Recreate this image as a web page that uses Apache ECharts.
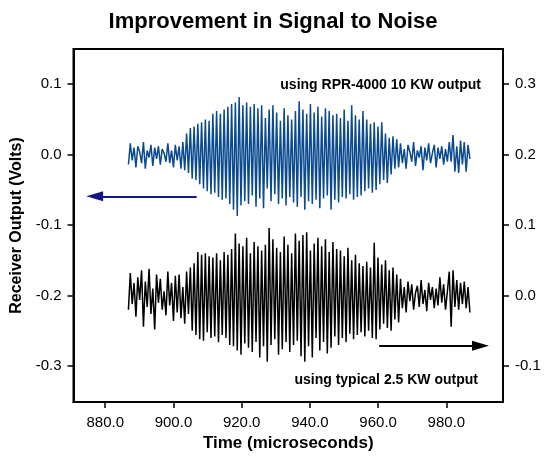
<!DOCTYPE html>
<html>
<head>
<meta charset="utf-8">
<title>Improvement in Signal to Noise</title>
<script src="https://cdn.jsdelivr.net/npm/echarts@6/dist/echarts.min.js"></script>
<style>
  html, body { margin: 0; padding: 0; background: #fff; }
  #chart { width: 546px; height: 457px; }
</style>
</head>
<body>
<div id="chart"></div>
<script>
// sampling of the recorded traces (microseconds)
const startTime = 886.8
const sampleStep = 0.55

// receiver output, RPR-4000 10 KW (left axis, volts)
const rprSignal = [
  -0.014, 0.016, -0.008, 0.010, -0.018, 0.012, 0.004, -0.012, 0.018, -0.020,
  0.006, -0.004, 0.014, -0.016, 0.010, -0.006, 0.012, -0.014, 0.008, 0.002,
  -0.010, 0.016, -0.012, 0.006, -0.018, 0.014, -0.008, 0.012, -0.020, 0.018,
  -0.022, 0.030, -0.026, 0.038, -0.034, 0.040, -0.036, 0.044, -0.042, 0.046,
  -0.048, 0.050, -0.052, 0.048, -0.056, 0.058, -0.054, 0.062, -0.060, 0.058,
  -0.064, 0.064, -0.062, 0.068, -0.070,
  0.072, -0.078, 0.074, -0.087, 0.082, -0.072, 0.070, -0.066, 0.074, -0.070,
  0.068, -0.058, 0.072, -0.074, 0.066, -0.062, 0.070, -0.076, 0.052, -0.048,
  0.064, -0.066, 0.070, -0.056, 0.060, -0.070, 0.048, -0.062, 0.066, -0.072,
  0.056, -0.060, 0.050, -0.068, 0.062, -0.074, 0.076, -0.060, 0.064, -0.078,
  0.058, -0.066, 0.072, -0.070, 0.060, -0.064, 0.068, -0.076, 0.054, -0.062,
  0.066, -0.058, 0.062, -0.078, 0.056, -0.064, 0.058, -0.068, 0.052, -0.060,
  0.064, -0.062, 0.048, -0.056, 0.070, -0.064, 0.056, -0.060, 0.050, -0.058,
  0.062, -0.052, 0.050, -0.048, 0.044, -0.054, 0.046, -0.050, 0.040, -0.042,
  0.046, -0.036, 0.030, -0.040, 0.024, -0.028, 0.026, -0.020, 0.022, -0.018,
  0.016, -0.012, 0.008, -0.020, 0.014, 0.004, -0.010, 0.018, -0.016, 0.006,
  -0.004, 0.012, -0.022, 0.010, -0.008, 0.016, -0.012, 0.002, 0.014, -0.018,
  0.010, -0.006, 0.012, -0.014, 0.008, -0.010, 0.018,
  -0.010, 0.028, -0.024, 0.012, -0.026, 0.020, -0.014, 0.018, -0.024, 0.014,
  -0.006
]

// receiver output, typical 2.5 KW (right axis, volts)
const typicalSignal = [
  -0.020, 0.032, -0.012, 0.018, -0.030, 0.026, -0.006, 0.036, -0.044, 0.020,
  -0.016, 0.038, -0.026, 0.010, -0.048, 0.030, -0.010, 0.024, -0.020, 0.006,
  -0.028, 0.034, -0.014, 0.018, -0.036, 0.028, -0.024, 0.030, -0.032, 0.012,
  -0.040, 0.034, -0.026,
  0.040, -0.050, 0.046, -0.056, 0.062, -0.062, 0.058, -0.064, 0.060, -0.052,
  0.056, -0.060,
  0.054, -0.058, 0.060, -0.066, 0.050, -0.056, 0.062, -0.060, 0.058, -0.070,
  0.066, -0.072,
  0.088, -0.078, 0.074, -0.084, 0.070, -0.068,
  0.082, -0.074, 0.060, -0.080, 0.076, -0.066, 0.070, -0.088, 0.064, -0.072,
  0.072, -0.094, 0.096, -0.070, 0.080, -0.062, 0.068, -0.084, 0.062, -0.076,
  0.084, -0.066, 0.072, -0.080, 0.060, -0.070, 0.088, -0.064, 0.078, -0.086,
  0.086, -0.094, 0.090, -0.072, 0.064, -0.088, 0.074, -0.060, 0.082, -0.078,
  0.070, -0.066, 0.080, -0.082, 0.062, -0.074, 0.076, -0.058, 0.066, -0.070,
  0.064, -0.060, 0.056, -0.066, 0.068, -0.054, 0.050, -0.062, 0.058, -0.056,
  0.046, -0.052, 0.042, -0.058, 0.048, -0.050, 0.040, -0.060, 0.075, -0.062,
  0.054, -0.048, 0.044, -0.040, 0.050, -0.046, 0.036, -0.050, 0.040, -0.034,
  0.030, -0.038,
  0.024, -0.018, 0.012, -0.024, 0.020, -0.008, 0.016, -0.020, 0.004, 0.014,
  -0.016, 0.022, -0.012, 0.008, -0.022, 0.018, -0.006, 0.012, -0.018, 0.010,
  -0.014, 0.026, -0.010, 0.016, -0.020, 0.006, 0.034,
  -0.044, 0.036, -0.016, 0.022, -0.020, 0.018, -0.012, 0.020, -0.018, 0.012,
  -0.024
]

// tick labels
const timeTicks = [880, 900, 920, 940, 960, 980]
const leftTicks = [-0.3, -0.2, -0.1, 0.0, 0.1]
const rightTicks = [-0.1, 0.0, 0.1, 0.2, 0.3]

const font = 'Arial, "Liberation Sans", sans-serif'

function toPairs(values) {
  return values.map(function (v, i) {
    return [startTime + i * sampleStep, v]
  })
}

function yAxisCommon(ticks) {
  return {
    type: 'value',
    axisLine: { show: true, onZero: false, lineStyle: { color: '#000', width: 2 } },
    axisTick: { show: true, inside: false, length: 6, lineStyle: { color: '#000', width: 1.5 }, customValues: ticks },
    axisLabel: {
      color: '#000', fontSize: 15, fontFamily: font, margin: 12,
      customValues: ticks,
      formatter: function (v) { return v.toFixed(1) }
    },
    splitLine: { show: false }
  }
}

var chart = echarts.init(document.getElementById('chart'))

var leftAxis = yAxisCommon(leftTicks)
leftAxis.min = -0.351
leftAxis.max = 0.15
leftAxis.position = 'left'
leftAxis.name = 'Receiver Output (Volts)'
leftAxis.nameLocation = 'middle'
leftAxis.nameGap = 49
leftAxis.nameTextStyle = { color: '#000', fontSize: 16, fontWeight: 'bold', fontFamily: font }

var rightAxis = yAxisCommon(rightTicks)
rightAxis.min = -0.151
rightAxis.max = 0.35
rightAxis.position = 'right'

chart.setOption({
  animation: false,
  backgroundColor: '#fff',
  title: {
    text: 'Improvement in Signal to Noise',
    left: 'center',
    top: 6,
    textStyle: { color: '#000', fontSize: 22, fontWeight: 'bold', fontFamily: font }
  },
  grid: {
    left: 73.5, right: 43, top: 49, bottom: 55,
    show: true, borderColor: '#000', borderWidth: 2, backgroundColor: 'transparent'
  },
  xAxis: {
    type: 'value',
    min: 870.7,
    max: 996.6,
    name: 'Time (microseconds)',
    nameLocation: 'middle',
    nameGap: 32,
    nameTextStyle: { color: '#000', fontSize: 17, fontWeight: 'bold', fontFamily: font },
    axisLine: { show: true, onZero: false, lineStyle: { color: '#000', width: 2 } },
    axisTick: { show: true, length: 6, lineStyle: { color: '#000', width: 1.5 }, customValues: timeTicks },
    axisLabel: {
      color: '#000', fontSize: 15, fontFamily: font, margin: 13,
      customValues: timeTicks,
      formatter: function (v) { return v.toFixed(1) }
    },
    splitLine: { show: false }
  },
  yAxis: [leftAxis, rightAxis],
  graphic: [
    {
      type: 'text', right: 65, top: 78,
      style: { text: 'using RPR-4000 10 KW output', fill: '#000', font: 'bold 14px ' + font }
    },
    {
      type: 'text', right: 68, top: 373,
      style: { text: 'using typical 2.5 KW output', fill: '#000', font: 'bold 14px ' + font }
    }
  ],
  series: [
    {
      name: 'RPR-4000 10 KW',
      type: 'line',
      yAxisIndex: 0,
      data: toPairs(rprSignal),
      showSymbol: false,
      lineStyle: { color: '#0b4a8e', width: 1.5 },
      markLine: {
        silent: true,
        symbol: ['none', 'triangle'],
        symbolSize: [10, 17],
        label: { show: false },
        lineStyle: { color: '#15158a', width: 2, type: 'solid' },
        data: [[{ coord: [906.8, -0.059] }, { coord: [876.9, -0.059] }]]
      }
    },
    {
      name: 'typical 2.5 KW',
      type: 'line',
      yAxisIndex: 1,
      data: toPairs(typicalSignal),
      showSymbol: false,
      lineStyle: { color: '#000', width: 1.5 },
      markLine: {
        silent: true,
        symbol: ['none', 'triangle'],
        symbolSize: [10, 17],
        label: { show: false },
        lineStyle: { color: '#000', width: 2, type: 'solid' },
        data: [[{ coord: [960.3, -0.071] }, { coord: [990.0, -0.071] }]]
      }
    }
  ]
})
</script>
</body>
</html>
